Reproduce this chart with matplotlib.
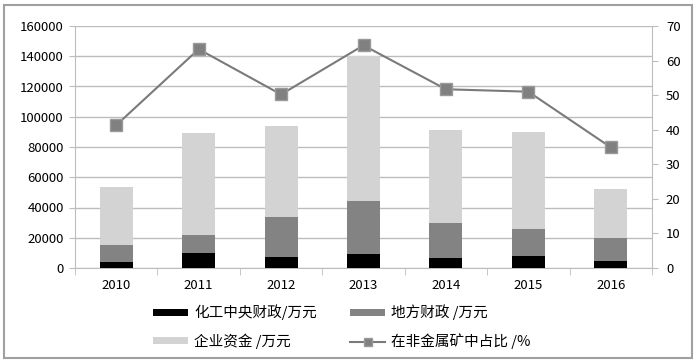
import matplotlib
matplotlib.use('Agg')
import matplotlib.pyplot as plt
from matplotlib.patches import Rectangle
import numpy as np

plt.rcParams['font.family'] = ['Noto Sans CJK SC', 'DejaVu Sans']

# data
years = ['2010', '2011', '2012', '2013', '2014', '2015', '2016']
central = [3800, 9700, 7300, 9000, 6400, 7900, 4400]        # 化工中央财政
local = [11400, 12100, 26600, 35300, 23100, 18100, 15600]   # 地方财政
company = [38500, 67200, 60200, 95800, 61700, 63700, 32200]  # 企业资金
share = [41.3, 63.3, 50.2, 64.4, 51.7, 51.0, 34.9]           # 在非金属矿中占比 %

x = np.arange(len(years))
w = 0.4
grey_line = '#bdbdbd'

fig = plt.figure(figsize=(7, 3.63), dpi=100)
ax = fig.add_axes([75 / 700, 1 - 268 / 363, (652 - 75) / 700, (268 - 26) / 363])

b1 = ax.bar(x, central, w, color='#000000', zorder=3)
b2 = ax.bar(x, local, w, bottom=central, color='#838383', zorder=3)
bottom3 = np.array(central) + np.array(local)
b3 = ax.bar(x, company, w, bottom=bottom3, color='#d3d3d3', zorder=3)

ax.set_xlim(-0.5, len(years) - 0.5)
ax.set_ylim(0, 160000)
ax.set_yticks(range(0, 160001, 20000))
ax.yaxis.grid(True, color=grey_line, lw=1)
ax.set_axisbelow(True)
ax.set_xticks(x)
ax.set_xticklabels(years)
ax.set_xticks(np.arange(-0.5, len(years)), minor=True)
ax.tick_params(axis='x', which='major', length=0, pad=8, labelsize=9.5)
ax.tick_params(axis='x', which='minor', length=5, color=grey_line, direction='out')
ax.tick_params(axis='y', length=4, color=grey_line, labelsize=9.5, pad=4)
for s in ['top', 'right']:
    ax.spines[s].set_visible(False)
ax.spines['left'].set_color(grey_line)
ax.spines['bottom'].set_color(grey_line)

ax2 = ax.twinx()
ln, = ax2.plot(x, share, color='#7a7a7a', lw=1.5, marker='s', markersize=8,
               markerfacecolor='#808080', markeredgecolor='#9a9a9a', zorder=4)
ax2.set_ylim(0, 70)
ax2.set_yticks(range(0, 71, 10))
ax2.tick_params(axis='y', length=4, color=grey_line, labelsize=9.5, pad=6)
for s in ['top', 'left', 'bottom']:
    ax2.spines[s].set_visible(False)
ax2.spines['right'].set_color(grey_line)

# legend below the plot, filled column by column
fig.legend([b1, b3, b2, ln],
           ['化工中央财政/万元', '企业资金 /万元', '地方财政 /万元', '在非金属矿中占比 /%'],
           ncol=2, loc='center', bbox_to_anchor=(342 / 700, 1 - 327 / 363),
           frameon=False, fontsize=10.5, handlelength=2.4, handleheight=0.35,
           handletextpad=0.4, columnspacing=2.3, labelspacing=0.9,
           markerscale=0.7)

# grey frame round the whole chart
fig.patches.append(Rectangle((4 / 700, 5 / 363), 688 / 700, 353 / 363,
                             transform=fig.transFigure, fill=False,
                             edgecolor='#a0a0a0', lw=1.5))

fig.savefig('out.png', dpi=100)
